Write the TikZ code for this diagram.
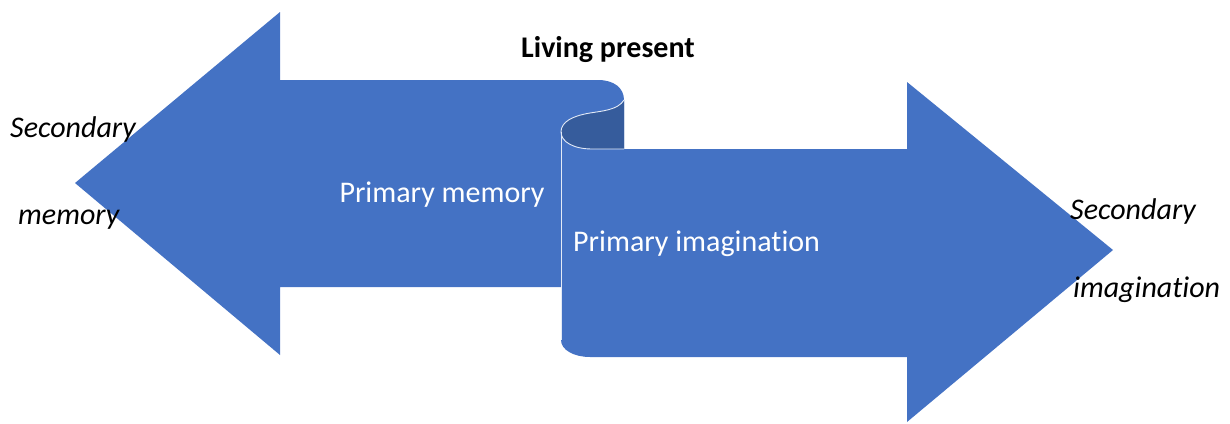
\documentclass[tikz,border=0pt]{standalone}
\usepackage{fontspec}
\setmainfont{Carlito}[Ligatures=NoCommon]
\definecolor{ablue}{HTML}{4472C4}
\definecolor{dblue}{HTML}{365C9C}
\begin{document}
\begin{tikzpicture}[x=1pt,y=-1pt,
  shapefill/.style={fill=ablue,draw=none},
  edge/.style={draw=white!85!ablue,line width=0.9pt},
  intext/.style={text=white,font=\fontsize{30}{34}\selectfont,inner sep=0pt},
  outtext/.style={text=black,font=\fontsize{30}{34}\selectfont\itshape,inner sep=0pt}]
\useasboundingbox (0,0) rectangle (1230,423);
% left arrow (primary memory)
\path[shapefill] (75,183) -- (280,12) -- (280,80) -- (598,80)
  .. controls (614,80) and (624,88) .. (624,100) -- (624,149) -- (561,149)
  -- (561,287) -- (280,287) -- (280,355) -- cycle;
% back of the curl
\path[fill=dblue] (624,100) .. controls (618,110) and (602,111) .. (590,113)
  .. controls (572,116) and (561,122) .. (561,132)
  .. controls (561,142) and (574,149) .. (592,149) -- (624,149) -- cycle;
% right arrow (primary imagination)
\path[shapefill] (561,132) .. controls (561,142) and (574,149) .. (592,149)
  -- (907,149) -- (907,82) -- (1113,250) -- (907,422) -- (907,357)
  -- (590,357) .. controls (574,357) and (561,350) .. (561,340) -- cycle;
% light edges of the scroll
\draw[edge] (624,100) .. controls (618,110) and (602,111) .. (590,113)
  .. controls (572,116) and (561,122) .. (561,132);
\draw[edge] (561,132) .. controls (561,142) and (574,149) .. (592,149) -- (624,149);
\draw[edge] (561,132) -- (561,340);
% texts
\node[font=\fontsize{30}{34}\selectfont\bfseries,inner sep=0pt] (lp) at (608,50) {Living present};
\node[intext] (pm) at (442,195) {Primary memory};
\node[intext,anchor=west] (pi) at (573,244) {Primary imagination};
\node[outtext,anchor=west] (sm1) at (10,129) {Secondary};
\node[outtext,anchor=west] (sm2) at (18,220) {memory};
\node[outtext,anchor=west] (si1) at (1070,211) {Secondary};
\node[outtext,anchor=west] (si2) at (1073,290) {imagination};
\end{tikzpicture}
\end{document}
